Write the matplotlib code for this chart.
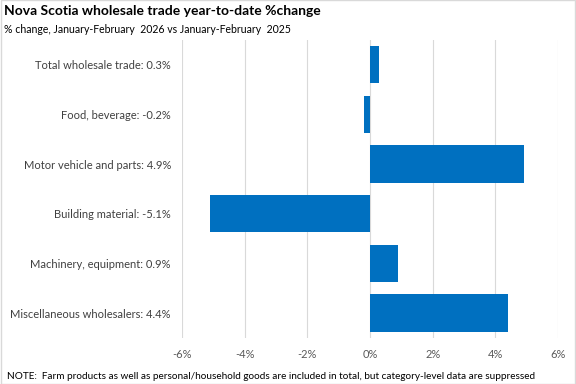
import matplotlib.pyplot as plt
from matplotlib.patches import Rectangle

plt.rcParams['font.family'] = ['Lato', 'DejaVu Sans']

categories = ['Total wholesale trade: 0.3%', 'Food, beverage: -0.2%',
              'Motor vehicle and parts: 4.9%', 'Building material: -5.1%',
              'Machinery, equipment: 0.9%', 'Miscellaneous wholesalers: 4.4%']
values = [0.3, -0.2, 4.9, -5.1, 0.9, 4.4]
xticks = [-6, -4, -2, 0, 2, 4, 6]
xtick_labels = ['-6%', '-4%', '-2%', '0%', '2%', '4%', '6%']

fig = plt.figure(figsize=(5.76, 3.84), dpi=100)
ax = fig.add_axes([0.316, 0.12, 0.653, 0.776])

y = range(len(categories))
ax.barh(y, values, height=0.75, color='#0070C0', zorder=3)
ax.set_ylim(len(categories) - 0.5, -0.5)
ax.set_xlim(-6, 6)
ax.set_yticks(list(y))
ax.set_yticklabels(categories, fontsize=8, color='#404040')
ax.set_xticks(xticks)
ax.set_xticklabels(xtick_labels, fontsize=8, color='#595959')
ax.tick_params(axis='x', length=0, pad=8)
ax.tick_params(axis='y', length=0, pad=8)
ax.grid(axis='x', color='#D9D9D9', linewidth=0.8, zorder=0)
for s in ax.spines.values():
    s.set_visible(False)

fig.text(0.007, 0.988, 'Nova Scotia wholesale trade year-to-date %change',
         fontsize=10, fontweight='bold', va='top', ha='left')
fig.text(0.007, 0.938, '% change, January-February  2026 vs January-February  2025',
         fontsize=7.6, va='top', ha='left')
fig.text(0.012, 0.008, 'NOTE:  Farm products as well as personal/household goods are included in total, but category-level data are suppressed',
         fontsize=7.2, va='bottom', ha='left')

fig.patches.append(Rectangle((0.001, 0.001), 0.998, 0.998, transform=fig.transFigure,
                             fill=False, edgecolor='#D9D9D9', linewidth=1))

fig.savefig('out.png', dpi=100)
